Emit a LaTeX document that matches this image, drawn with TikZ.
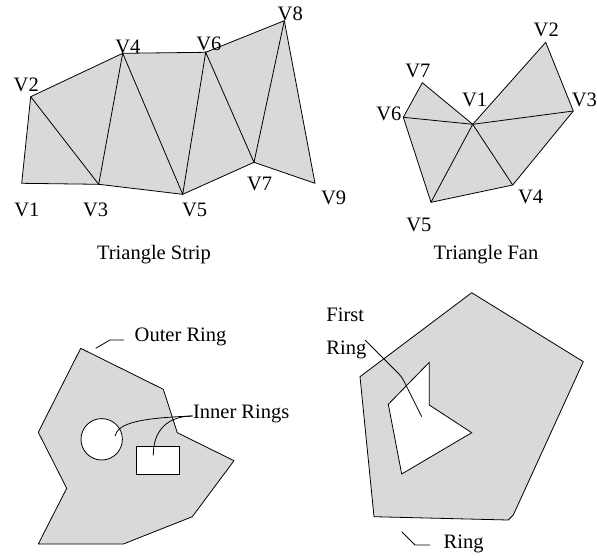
\documentclass[tikz,border=0pt]{standalone}
\usepackage{fontspec}
\setmainfont{Liberation Serif}

\begin{document}
\begin{tikzpicture}[x=1pt,y=-1pt,
        line width=0.8pt,
        lbl/.style={anchor=base west,inner sep=0pt,font=\fontsize{20.5}{24}\selectfont},
        mesh/.style={draw,fill=black!15,line join=round},
        hole/.style={draw,fill=white,inner sep=0pt}]
    \useasboundingbox (0,0) rectangle (597,557);

    % triangle strip
    \coordinate (s1) at (21.7,183.3);
    \coordinate (s2) at (30.7,96.7);
    \coordinate (s3) at (98.7,184.3);
    \coordinate (s4) at (122.7,53.3);
    \coordinate (s5) at (182.7,194.3);
    \coordinate (s6) at (205.7,52.3);
    \coordinate (s7) at (254,162.3);
    \coordinate (s8) at (284.3,20.7);
    \coordinate (s9) at (315,183.3);
    \path[mesh] (s1) -- (s2) -- (s4) -- (s6) -- (s8) -- (s9) -- (s7) -- (s5) -- (s3) -- cycle;
    \draw (s2) -- (s3) -- (s4) -- (s5) -- (s6) -- (s7) -- (s8);

    \node[lbl] (s1l) at (14,216.7) {V1};
    \node[lbl] (s2l) at (13.3,91.7) {V2};
    \node[lbl] (s3l) at (82.7,216.7) {V3};
    \node[lbl] (s4l) at (115,53.3) {V4};
    \node[lbl] (s5l) at (181.7,216.3) {V5};
    \node[lbl] (s6l) at (196,50) {V6};
    \node[lbl] (s7l) at (246.7,190) {V7};
    \node[lbl] (s8l) at (277.3,20.7) {V8};
    \node[lbl] (s9l) at (320.7,204) {V9};
    \node[lbl] (strip) at (96.7,259.5) {Triangle Strip};

    % triangle fan
    \coordinate (f1) at (472.7,124.3);
    \coordinate (f2) at (545.7,42.3);
    \coordinate (f3) at (573.3,111);
    \coordinate (f4) at (512.7,185);
    \coordinate (f5) at (431,202.3);
    \coordinate (f6) at (403.3,117.3);
    \coordinate (f7) at (422.3,82.7);
    \path[mesh] (f1) -- (f2) -- (f3) -- (f4) -- (f5) -- (f6) -- (f7) -- cycle;
    \foreach \i in {3,...,6}
        \draw (f1) -- (f\i);

    \node[lbl] (f1l) at (461.7,106) {V1};
    \node[lbl] (f2l) at (533.3,36) {V2};
    \node[lbl] (f3l) at (571.5,106) {V3};
    \node[lbl] (f4l) at (517.7,203.3) {V4};
    \node[lbl] (f5l) at (406,231.7) {V5};
    \node[lbl] (f6l) at (376,120) {V6};
    \node[lbl] (f7l) at (405,77.3) {V7};
    \node[lbl] (fan) at (433.3,259) {Triangle Fan};

    % polygon with inner rings
    \path[mesh] (80.7,348.3) -- (163.3,389.3) -- (177.3,432.7) -- (234,460.7)
        -- (192.3,516.7) -- (123.3,544) -- (38.3,544) -- (66.7,488.3)
        -- (38.3,432.3) -- cycle;
    \node[hole,circle,minimum size=41.4pt] (circ) at (101.7,439.3) {};
    \node[hole,minimum width=43.3pt,minimum height=28.3pt] (rect) at (157.7,460.2) {};

    \node[lbl] (outer) at (134.3,341.7) {Outer Ring};
    \coordinate (o1) at (95.7,348.3);
    \coordinate (o2) at (110,340);
    \coordinate (o3) at (124,340);
    \draw (o1) -- (o2) -- (o3);

    \node[lbl] (inner) at (192.7,418.3) {Inner Rings};
    \coordinate (i0) at (192.7,416);
    \coordinate (i1) at (115,436);
    \coordinate (i2) at (153.3,455.7);
    \draw (i1) .. controls (118,423) and (140,418) .. (i0);
    \draw (i2) .. controls (153,430) and (168,416) .. (i0);

    % polygon with first ring
    \path[mesh] (471.7,292.7) -- (583.3,361.7) -- (513.3,515) -- (508.3,520)
        -- (374,516.7) -- (360,376.7) -- cycle;
    \path[hole] (429.3,362.3) -- (429.3,405) -- (471.7,432.7) -- (401.7,474)
        -- (388.3,404.3) -- cycle;

    \node[lbl] (first) at (326,321.7) {First};
    \node[lbl] (firstb) at (326,354) {Ring};
    \coordinate (r1) at (365,340);
    \coordinate (r2) at (401.7,376.7);
    \coordinate (r3) at (421.7,416.7);
    \draw[rounded corners=4pt] (r1) -- (r2) -- (r3);

    \node[lbl] (ring) at (443.3,548.3) {Ring};
    \coordinate (b1) at (401.7,531.7);
    \coordinate (b2) at (415,545);
    \coordinate (b3) at (430,545);
    \draw (b1) -- (b2) -- (b3);
\end{tikzpicture}
\end{document}
